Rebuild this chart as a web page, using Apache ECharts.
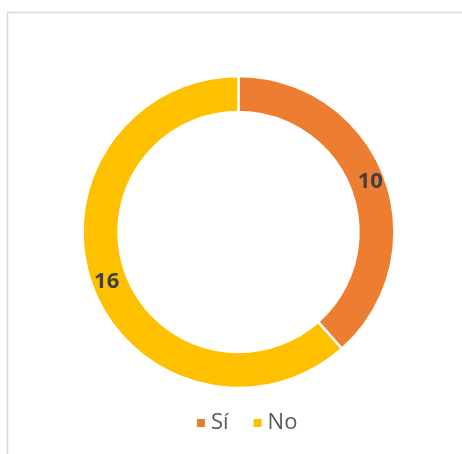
<!DOCTYPE html>
<html><head><meta charset="utf-8">
<script src="https://cdn.jsdelivr.net/npm/echarts@6/dist/echarts.min.js"></script>
<style>html,body{margin:0;padding:0;background:#fff}#c{width:462px;height:454px}</style>
</head><body><div id="c"></div>
<script>
const categories = ['Sí', 'No'];
const values = [10, 16];
const colors = ['#ED7D31', '#FFC000'];

const chart = echarts.init(document.getElementById('c'), null, {renderer: 'canvas'});
chart.setOption({
  animation: false,
  backgroundColor: '#fff',
  color: colors,
  graphic: [{
    type: 'rect', shape: {x: 7.5, y: 12.5, width: 470, height: 460},
    style: {fill: 'none', stroke: '#d9d9d9', lineWidth: 1.5}, silent: true
  }],
  legend: {
    data: categories, top: 407, left: 190,
    itemWidth: 10, itemHeight: 10, itemGap: 23, icon: 'rect',
    textStyle: {fontFamily: 'Open Sans', fontSize: 22, color: '#595959'}
  },
  series: [{
    type: 'pie', center: [238.5, 232], radius: [120, 156],
    startAngle: 90, clockwise: true,
    itemStyle: {borderColor: '#fff', borderWidth: 2.5},
    label: {show: true, position: 'inside', formatter: '{c}',
      fontFamily: 'Open Sans', fontWeight: 'bold', fontSize: 22, color: '#404040'},
    labelLine: {show: false},
    data: categories.map((n, i) => ({name: n, value: values[i]}))
  }]
});
</script></body></html>
